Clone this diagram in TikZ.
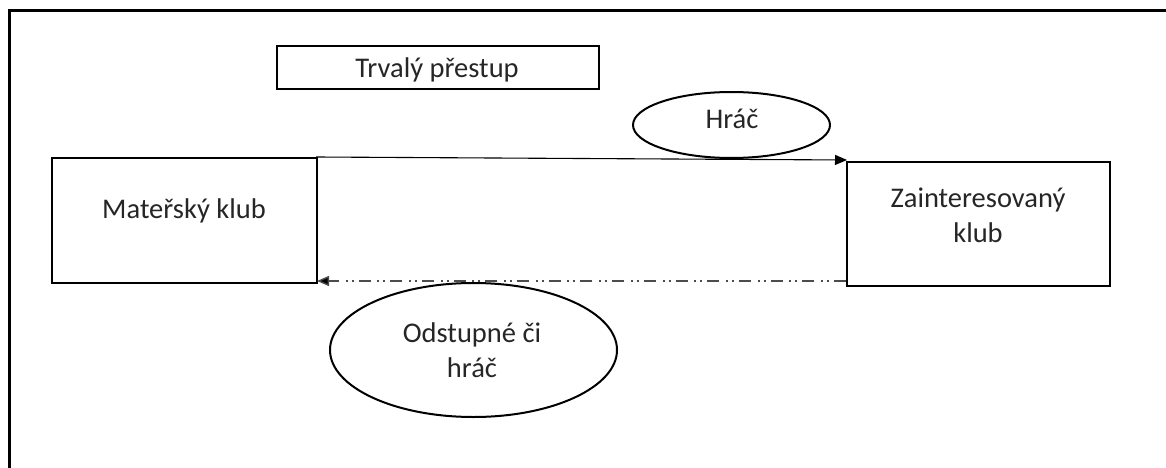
\documentclass[tikz,border=0pt]{standalone}
\usepackage{fontspec}
\setmainfont{Carlito}
\usetikzlibrary{shapes.geometric,arrows.meta}
\definecolor{txt}{HTML}{262626}
\tikzset{
  boxnode/.style={draw=black, line width=2.6pt, rectangle, inner sep=0pt},
  ovalnode/.style={draw=black, line width=2pt, ellipse, inner sep=0pt},
  lbl/.style={text=txt, font=\fontsize{28.5}{35}\selectfont, align=center, inner sep=0pt},
  flow/.style={line width=1.1pt, -{Triangle[length=12pt,width=10pt]}},
  back/.style={line width=1.4pt, draw=black!70, dash pattern=on 12pt off 5pt on 2pt off 4pt on 2pt off 6.7pt, -{Triangle[length=12pt,width=10pt,fill=black]}}
}
\begin{document}
\begin{tikzpicture}[x=1pt,y=-1pt]
\useasboundingbox (0,0) rectangle (1166,468);
\fill[white] (0,0) rectangle (1166,468);
% outer frame (open to right and bottom)
\draw[line width=3pt] (1170,11) -- (9.5,11) -- (9.5,472);
% title
\node[boxnode, minimum width=322pt, minimum height=43pt] (title) at (438,67.5) {};
\node[lbl] (titletext) at (437,70) {Trvalý přestup};
% boxes
\node[boxnode, minimum width=265pt, minimum height=125pt] (mat) at (184.5,220.5) {};
\node[lbl] (mattext) at (184,210.5) {Mateřský klub};
\node[boxnode, minimum width=263pt, minimum height=124pt] (zai) at (978.5,224) {};
\node[lbl] (zaitext) at (978,215.5) {Zainteresovaný\\klub};
% ellipses
\node[ovalnode, minimum width=197pt, minimum height=66pt] (hrac) at (731.5,125) {};
\node[lbl] (hractext) at (732,118.5) {Hráč};
\node[ovalnode, minimum width=287pt, minimum height=134pt] (odst) at (473.5,350) {};
\node[lbl] (odsttext) at (472,350.5) {Odstupné či\\hráč};
% arrows
\coordinate (a1) at (316,157);
\coordinate (a2) at (847,160);
\draw[flow] (a1) -- (a2);
\coordinate (b1) at (846,281);
\coordinate (b2) at (317,281);
\draw[back] (b1) -- (b2);
\end{tikzpicture}
\end{document}
